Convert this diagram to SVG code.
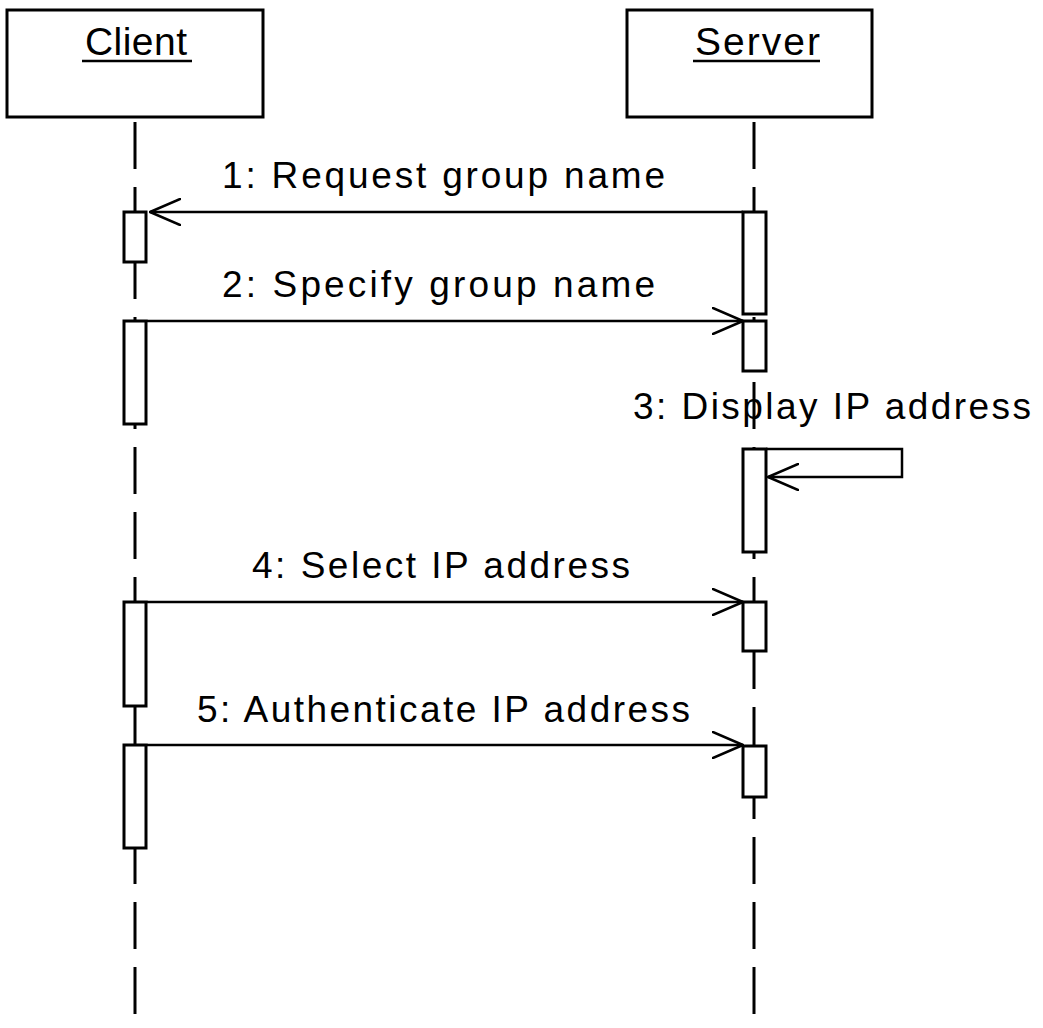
<svg xmlns="http://www.w3.org/2000/svg" width="1043" height="1028" viewBox="0 0 1043 1028">
  <style>
    .obj { fill: #fff; stroke: #000; stroke-width: 3; }
    .title { font-family: "Liberation Sans", Arial, sans-serif; font-size: 39px; fill: #000; }
    .uline { stroke: #000; stroke-width: 2.5; }
    .life { stroke: #000; stroke-width: 3; stroke-dasharray: 47 18; fill: none; }
    .act { fill: #fff; stroke: #000; stroke-width: 3; }
    .msg { stroke: #000; stroke-width: 2.5; fill: none; }
    .head { stroke: #000; stroke-width: 2.5; fill: none; stroke-linecap: round; }
    .label { font-family: "Liberation Sans", Arial, sans-serif; font-size: 37px; fill: #000; }
  </style>
  <defs>
    <marker id="open" viewBox="0 0 32 28" refX="31" refY="14" markerWidth="32" markerHeight="28" markerUnits="userSpaceOnUse" orient="auto">
      <path d="M1,1 L31,14 L1,27" class="head"/>
    </marker>
  </defs>
  <rect width="1043" height="1028" fill="#fff"/>

  <!-- lifelines -->
  <g id="lifelines">
    <line class="life" x1="135" y1="122" x2="135" y2="1020"/>
    <line class="life" x1="754" y1="122" x2="754" y2="1020"/>
  </g>

  <!-- objects -->
  <g id="client">
    <rect class="obj" x="7" y="10" width="256" height="107"/>
    <text class="title" x="85" y="55" textLength="102" lengthAdjust="spacing">Client</text>
    <line class="uline" x1="82" y1="61" x2="192" y2="61"/>
  </g>
  <g id="server">
    <rect class="obj" x="627" y="10" width="245" height="107"/>
    <text class="title" x="695" y="55" textLength="125" lengthAdjust="spacing">Server</text>
    <line class="uline" x1="693" y1="61" x2="820" y2="61"/>
  </g>

  <!-- activation bars -->
  <g id="client-activations">
    <rect class="act" x="124" y="212" width="22" height="50"/>
    <rect class="act" x="124" y="321" width="22" height="103"/>
    <rect class="act" x="124" y="602" width="22" height="104"/>
    <rect class="act" x="124" y="745" width="22" height="103"/>
  </g>
  <g id="server-activations">
    <rect class="act" x="743" y="212" width="23" height="102"/>
    <rect class="act" x="743" y="321" width="23" height="50"/>
    <rect class="act" x="743" y="449" width="23" height="103"/>
    <rect class="act" x="743" y="602" width="23" height="49"/>
    <rect class="act" x="743" y="746" width="23" height="51"/>
  </g>

  <!-- messages -->
  <g id="connectors">
    <line class="msg" x1="743" y1="212" x2="150" y2="212" marker-end="url(#open)"/>
    <line class="msg" x1="147" y1="321" x2="743" y2="321" marker-end="url(#open)"/>
    <path class="msg" d="M766,449 H902 V477 H768" marker-end="url(#open)"/>
    <line class="msg" x1="147" y1="602" x2="743" y2="602" marker-end="url(#open)"/>
    <line class="msg" x1="147" y1="745" x2="743" y2="745" marker-end="url(#open)"/>
  </g>

  <!-- message labels -->
  <g id="labels">
    <text class="label" x="222" y="188" textLength="443" lengthAdjust="spacing">1: Request group name</text>
    <text class="label" x="222" y="297" textLength="433" lengthAdjust="spacing">2: Specify group name</text>
    <text class="label" x="633" y="419" textLength="398" lengthAdjust="spacing">3: Display IP address</text>
    <text class="label" x="252" y="578" textLength="378" lengthAdjust="spacing">4: Select IP address</text>
    <text class="label" x="197" y="722" textLength="493" lengthAdjust="spacing">5: Authenticate IP address</text>
  </g>
</svg>
